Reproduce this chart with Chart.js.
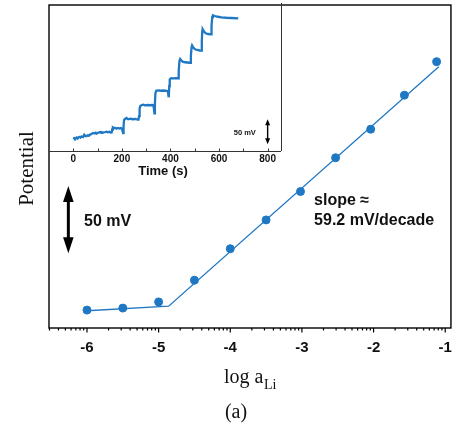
<!DOCTYPE html>
<html>
<head>
<meta charset="utf-8">
<script src="https://cdn.jsdelivr.net/npm/chart.js@4"></script>
<style>
  html, body { margin: 0; padding: 0; background: #fff; }
  #wrap { position: relative; width: 459px; height: 434px; }
  #mainChart, #insetChart { position: absolute; left: 0; top: 0; }
</style>
</head>
<body>
<div id="wrap">
  <canvas id="mainChart" width="459" height="434"></canvas>
  <canvas id="insetChart" width="290" height="185"></canvas>
</div>
<script>
// main plot: potential (mV, arbitrary offset) vs log a_Li
const logA = [-6, -5.5, -5, -4.5, -4, -3.5, -3.02, -2.53, -2.04, -1.57, -1.12];
const potential = [13.3, 14.8, 19.4, 35.5, 58.9, 80.3, 101.4, 126.5, 147.7, 173.0, 197.9];
const fitLogA = [-6, -4.86, -1.09];
const fitPotential = [12.8, 16.2, 194.2];
const xTickValues = [-6, -5, -4, -3, -2, -1];

// inset: potential trace vs time
const time = [0, 3, 7, 10, 14, 18, 21, 27, 30, 34, 40, 45, 50, 55, 60, 64, 68, 72, 76, 82,
  88, 92, 96, 100, 105, 110, 115, 118, 123, 128, 132, 137, 142, 148, 153, 158, 160, 163, 167, 172,
  178, 184, 190, 196, 200, 203, 205, 207, 209, 213, 219, 226, 235, 245, 255, 262, 268, 271, 273, 276,
  282, 288, 295, 305, 315, 325, 330, 332, 334, 336, 338, 341, 350, 360, 370, 380, 389, 391, 393, 395,
  397, 403, 412, 422, 432, 434, 437, 440, 445, 450, 460, 470, 481, 484, 487, 489, 494, 501, 510, 520,
  527, 529, 531, 533, 538, 545, 555, 567, 569, 572, 575, 583, 595, 610, 630, 650, 679];
const insetPotential = [27.3, 26, 24.5, 25.5, 27, 25, 27.3, 28.5, 27, 29, 28, 32.7, 30, 30, 31.5, 30.5, 32.7, 33, 34.5, 36,
  35, 36.5, 34.7, 36, 37, 38, 36.5, 37.5, 36.7, 37.5, 38, 38.7, 37.5, 38.5, 37, 37.3, 43, 47, 45.5, 46.5,
  44.7, 46, 45, 46, 44.5, 40, 36, 50, 62, 64, 66, 63.3, 64.5, 63.5, 64, 63, 62.5, 70, 85, 90,
  92, 92.7, 91.3, 92, 91.5, 92, 91.5, 84, 75.5, 95, 115, 120.5, 121.3, 120.5, 121, 120.5, 119.5, 113, 107.5, 130,
  143, 145.5, 145.3, 145.5, 145.5, 160, 180, 184, 181, 178.7, 177.5, 177, 176.5, 190, 208, 211.3, 207, 203.3, 202, 201,
  200.7, 220, 240, 243.3, 239, 235.3, 234, 233.3, 250, 268, 271.3, 270, 268.5, 267.3, 266.5, 266, 265.3];
const insetTickValues = [0, 200, 400, 600, 800];
const insetMinorTicks = [100, 300, 500, 700];

const BLUE = '#1f78c4';
const SANS = '"Liberation Sans", Arial, sans-serif';
const SERIF = '"Liberation Serif", "Times New Roman", serif';

function drawArrow(ctx, x, yTop, yBot, headLen, headHalf, shaft) {
    ctx.save();
    ctx.fillStyle = '#000';
    ctx.strokeStyle = '#000';
    ctx.lineWidth = shaft;
    ctx.beginPath();
    ctx.moveTo(x, yTop + headLen - 1);
    ctx.lineTo(x, yBot - headLen + 1);
    ctx.stroke();
    ctx.beginPath();
    ctx.moveTo(x, yTop);
    ctx.lineTo(x - headHalf, yTop + headLen);
    ctx.lineTo(x + headHalf, yTop + headLen);
    ctx.closePath();
    ctx.fill();
    ctx.beginPath();
    ctx.moveTo(x, yBot);
    ctx.lineTo(x - headHalf, yBot - headLen);
    ctx.lineTo(x + headHalf, yBot - headLen);
    ctx.closePath();
    ctx.fill();
    ctx.restore();
}

const mainDecor = {
    id: 'mainDecor',
    afterDraw(chart) {
        const ctx = chart.ctx;
        const area = chart.chartArea;
        const xs = chart.scales.x;
        const ys = chart.scales.y;
        ctx.save();

        // frame
        ctx.strokeStyle = '#000';
        ctx.lineWidth = 1.4;
        ctx.strokeRect(area.left, area.top, area.right - area.left, area.bottom - area.top);

        // major and log-minor ticks below the axis
        ctx.lineWidth = 1.2;
        ctx.beginPath();
        for (let d = -7; d <= -1; d++) {
            for (let k = 1; k <= 9; k++) {
                const v = d + Math.log10(k);
                if (v < xs.min || v > xs.max) continue;
                const px = xs.getPixelForValue(v);
                const len = k === 1 ? 4.5 : 2.5;
                ctx.moveTo(px, area.bottom);
                ctx.lineTo(px, area.bottom + len);
            }
        }
        ctx.stroke();

        // y title
        ctx.fillStyle = '#111';
        ctx.save();
        ctx.translate(33, (area.top + area.bottom) / 2 + 2);
        ctx.rotate(-Math.PI / 2);
        ctx.font = '21px ' + SERIF;
        ctx.textAlign = 'center';
        ctx.textBaseline = 'alphabetic';
        ctx.fillText('Potential', 0, 0);
        ctx.restore();

        // x title with subscript
        const big = '20px ' + SERIF;
        const small = '14px ' + SERIF;
        ctx.font = big;
        const w1 = ctx.measureText('log a').width;
        ctx.font = small;
        const w2 = ctx.measureText('Li').width;
        let x0 = (area.left + area.right) / 2 - (w1 + w2) / 2;
        ctx.textAlign = 'left';
        ctx.font = big;
        ctx.fillText('log a', x0, 383);
        ctx.font = small;
        ctx.fillText('Li', x0 + w1 + 0.5, 389);

        ctx.font = '20px ' + SERIF;
        ctx.textAlign = 'center';
        ctx.fillText('(a)', 236, 418);

        // 50 mV scale arrow
        drawArrow(ctx, xs.getPixelForValue(-6.26), ys.getPixelForValue(105.6), ys.getPixelForValue(55.6), 16, 5.3, 3);

        ctx.font = 'bold 16px ' + SANS;
        ctx.textAlign = 'left';
        ctx.textBaseline = 'middle';
        ctx.fillStyle = '#111';
        ctx.fillText('50 mV', xs.getPixelForValue(-6.04), ys.getPixelForValue(79.2));
        ctx.fillText('slope \u2248', xs.getPixelForValue(-2.83), ys.getPixelForValue(94.5));
        ctx.fillText('59.2 mV/decade', xs.getPixelForValue(-2.83), ys.getPixelForValue(79.8));
        ctx.restore();
    }
};

const insetDecor = {
    id: 'insetDecor',
    afterDraw(chart) {
        const ctx = chart.ctx;
        const area = chart.chartArea;
        const xs = chart.scales.x;
        const ys = chart.scales.y;
        ctx.save();
        ctx.strokeStyle = '#333';
        ctx.lineWidth = 1;
        ctx.beginPath();
        ctx.moveTo(area.left, area.bottom + 0.5);
        ctx.lineTo(area.right, area.bottom + 0.5);
        ctx.moveTo(area.right + 0.5, area.top);
        ctx.lineTo(area.right + 0.5, area.bottom);
        insetTickValues.concat(insetMinorTicks).forEach(v => {
            const px = Math.round(xs.getPixelForValue(v)) + 0.5;
            ctx.moveTo(px, area.bottom);
            ctx.lineTo(px, area.bottom - 2.5);
        });
        ctx.stroke();

        ctx.fillStyle = '#111';
        ctx.font = 'bold 13px ' + SANS;
        ctx.textAlign = 'center';
        ctx.textBaseline = 'middle';
        ctx.fillText('Time (s)', (area.left + area.right) / 2 - 2, 171);

        drawArrow(ctx, xs.getPixelForValue(800), ys.getPixelForValue(63.4), ys.getPixelForValue(13.4), 6, 2.5, 1.4);
        ctx.font = 'bold 7.5px ' + SANS;
        ctx.fillText('50 mV', xs.getPixelForValue(706), ys.getPixelForValue(37));
        ctx.restore();
    }
};

new Chart(document.getElementById('mainChart').getContext('2d'), {
    type: 'scatter',
    data: {
        datasets: [{
            label: 'data',
            data: logA.map((v, i) => ({x: v, y: potential[i]})),
            backgroundColor: BLUE,
            borderColor: BLUE,
            pointRadius: 4,
            showLine: false
        }, {
            label: 'fit',
            data: fitLogA.map((v, i) => ({x: v, y: fitPotential[i]})),
            borderColor: BLUE,
            borderWidth: 1.3,
            pointRadius: 0,
            showLine: true
        }]
    },
    options: {
        responsive: false,
        animation: false,
        devicePixelRatio: 1,
        layout: {padding: {left: 49, right: 8, top: 3, bottom: 0}},
        plugins: {legend: {display: false}, tooltip: {enabled: false}},
        scales: {
            x: {
                type: 'linear',
                min: -6.53,
                max: -0.92,
                grid: {display: false, drawTicks: true, tickLength: 4},
                border: {display: false},
                afterBuildTicks: scale => { scale.ticks = xTickValues.map(v => ({value: v})); },
                afterFit: scale => { scale.height = 106; },
                ticks: {
                    maxRotation: 0,
                    autoSkip: false,
                    padding: 7,
                    color: '#111',
                    font: {family: SANS, size: 15, weight: 'bold'},
                    callback: value => String(value)
                }
            },
            y: {
                type: 'linear',
                min: 0,
                max: 240,
                display: false
            }
        }
    },
    plugins: [mainDecor]
});

new Chart(document.getElementById('insetChart').getContext('2d'), {
    type: 'line',
    data: {
        datasets: [{
            label: 'trace',
            data: time.map((t, i) => ({x: t, y: insetPotential[i]})),
            borderColor: BLUE,
            borderWidth: 2.3,
            pointRadius: 0,
            tension: 0
        }]
    },
    options: {
        responsive: false,
        animation: false,
        devicePixelRatio: 1,
        layout: {padding: {left: 49, right: 9, top: 3, bottom: 0}},
        plugins: {legend: {display: false}, tooltip: {enabled: false}},
        scales: {
            x: {
                type: 'linear',
                min: -100,
                max: 855,
                grid: {display: false, drawTicks: false},
                border: {display: false},
                afterBuildTicks: scale => { scale.ticks = insetTickValues.map(v => ({value: v})); },
                afterFit: scale => { scale.height = 34; },
                ticks: {
                    maxRotation: 0,
                    autoSkip: false,
                    padding: 2,
                    color: '#111',
                    font: {family: SANS, size: 10, weight: 'bold'},
                    callback: value => String(value)
                }
            },
            y: {
                type: 'linear',
                min: 0,
                max: 296,
                display: false
            }
        }
    },
    plugins: [insetDecor]
});
</script>
</body>
</html>
